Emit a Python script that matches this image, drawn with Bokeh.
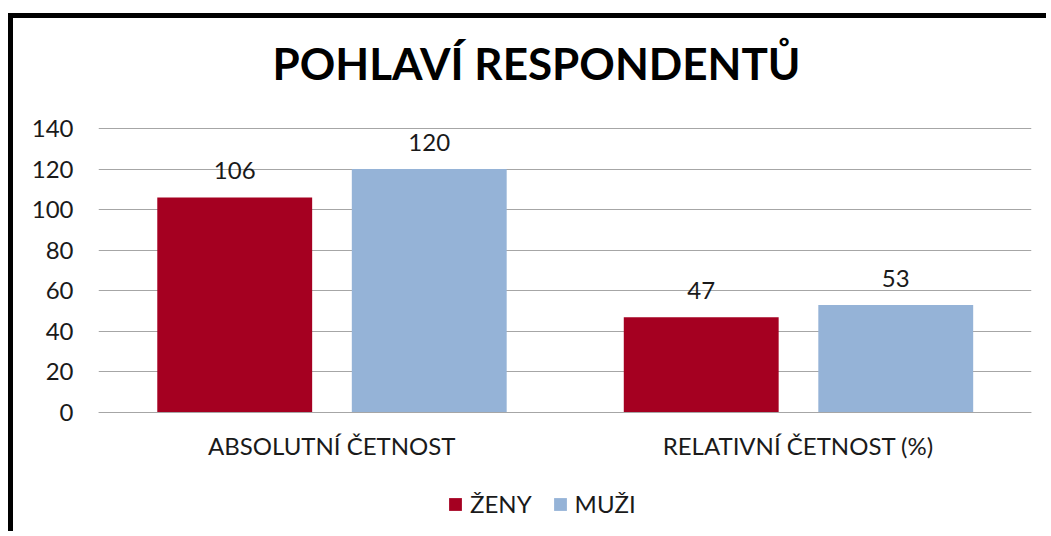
from bokeh.plotting import figure
from bokeh.models import ColumnDataSource, FactorRange, Range1d, LabelSet, Label, Legend, LegendItem
from bokeh.transform import dodge
from bokeh.core.properties import value
from bokeh.embed import file_html
from bokeh.resources import INLINE

# ---- data ----
categories = ["ABSOLUTNÍ ČETNOST", "RELATIVNÍ ČETNOST (%)"]
series = ["ŽENY", "MUŽI"]
zeny = [106, 47]
muzi = [120, 53]
y_ticks = [0, 20, 40, 60, 80, 100, 120, 140]
chart_title = "POHLAVÍ RESPONDENTŮ"

FONT = "Lato"
TEXT = "#1a1a1a"
RED = "#A50021"
BLUE = "#95B3D7"
GRID = "#A6A6A6"
FS = "24px"

W, H = 1038, 518
# frame spans the full canvas height; value axis 0..140 occupies 284 px
PX_PER_UNIT = 284 / 140
Y_TOP = 140 + 110 / PX_PER_UNIT
Y_BOTTOM = -(H - 394) / PX_PER_UNIT

src = ColumnDataSource(dict(
    cat=categories,
    zeny=zeny,
    muzi=muzi,
    zl=[str(v) for v in zeny],
    ml=[str(v) for v in muzi],
))

p = figure(
    x_range=FactorRange(*categories),
    y_range=Range1d(Y_BOTTOM, Y_TOP),
    width=W, height=H,
    title=None,
    output_backend="svg",
    toolbar_location=None,
    min_border_left=85, min_border_right=20,
    min_border_top=0, min_border_bottom=0,
)
p.styles = {
    "margin-left": "8px",
    "margin-top": "13px",
    "border-top": "5px solid black",
    "border-left": "5px solid black",
}
p.outline_line_color = None
p.background_fill_color = "white"
p.border_fill_color = "white"

# axes
p.yaxis.ticker = y_ticks
p.yaxis.axis_line_color = None
p.yaxis.major_tick_line_color = None
p.yaxis.minor_tick_line_color = None
p.yaxis.major_tick_out = 0
p.yaxis.major_tick_in = 0
p.yaxis.major_label_standoff = 25
p.yaxis.major_label_text_font = FONT
p.yaxis.major_label_text_font_size = FS
p.yaxis.major_label_text_color = TEXT

p.xaxis.fixed_location = 0
p.xaxis.axis_line_color = GRID
p.xaxis.major_tick_line_color = None
p.xaxis.minor_tick_line_color = None
p.xaxis.major_tick_out = 0
p.xaxis.major_tick_in = 0
p.xaxis.major_label_standoff = 18
p.xaxis.major_label_text_font = FONT
p.xaxis.major_label_text_font_size = FS
p.xaxis.major_label_text_color = TEXT

p.xgrid.grid_line_color = None
p.ygrid.ticker = y_ticks
p.ygrid.grid_line_color = GRID
p.ygrid.grid_line_width = 1

# bars
r1 = p.vbar(x=dodge("cat", -0.208, range=p.x_range), top="zeny", width=0.332,
            source=src, fill_color=RED, line_color=None)
r2 = p.vbar(x=dodge("cat", 0.209, range=p.x_range), top="muzi", width=0.332,
            source=src, fill_color=BLUE, line_color=None)

for col, lab, off in (("zeny", "zl", -0.208), ("muzi", "ml", 0.209)):
    p.add_layout(LabelSet(
        x=dodge("cat", off, range=p.x_range), y=col, text=lab, source=src,
        text_align="center", text_baseline="alphabetic", y_offset=18,
        text_font=value(FONT), text_font_size=FS, text_color=TEXT,
    ))

# title
p.add_layout(Label(
    x=438, y=H - 44, x_units="screen", y_units="screen", text=chart_title,
    text_align="center", text_baseline="alphabetic",
    text_font=FONT, text_font_size="44px", text_font_style="bold",
    text_color="black",
))

legend = Legend(
    items=[LegendItem(label=series[0], renderers=[r1]),
           LegendItem(label=series[1], renderers=[r2])],
    orientation="horizontal",
    location=(349, 18),
    glyph_width=16, glyph_height=16,
    label_standoff=7, spacing=20,
    label_text_font=FONT, label_text_font_size=FS, label_text_color=TEXT,
    padding=0, margin=0,
    border_line_color=None, background_fill_alpha=0,
)
p.add_layout(legend)

open("out.html", "w").write(file_html(p, INLINE))
